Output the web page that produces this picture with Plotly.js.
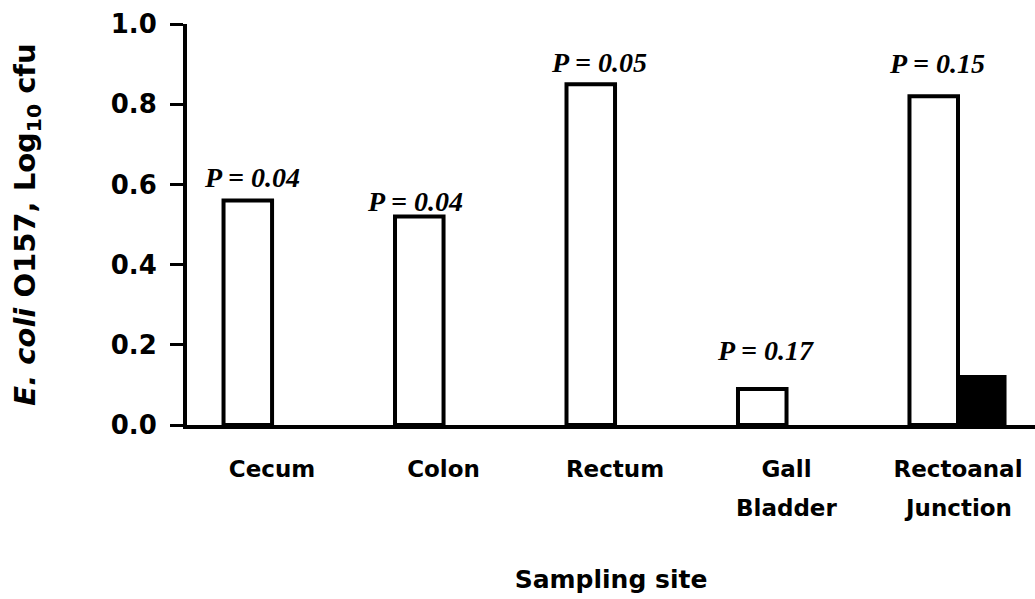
<!DOCTYPE html>
<html>
<head>
<meta charset="utf-8">
<script src="https://cdn.plot.ly/plotly-3.0.1.min.js"></script>
<style>html,body{margin:0;padding:0;background:#fff;}#chart{width:1035px;height:599px;}</style>
</head>
<body>
<div id="chart"></div>
<script>
// ---- data ----
var categories = ["Cecum", "Colon", "Rectum", "Gall Bladder", "Rectoanal Junction"];
var labelLine1 = ["Cecum", "Colon", "Rectum", "Gall", "Rectoanal"];
var labelLine2 = ["", "", "", "Bladder", "Junction"];
var whiteValues = [0.56, 0.52, 0.85, 0.09, 0.82];
var blackValues = [0, 0, 0, 0, 0.125];
var pLabels = ["P = 0.04", "P = 0.04", "P = 0.05", "P = 0.17", "P = 0.15"];
var yTicks = [0, 0.2, 0.4, 0.6, 0.8, 1.0];
var yTickText = ["0.0", "0.2", "0.4", "0.6", "0.8", "1.0"];

// ---- styling / placement (not data) ----
var pShiftX = [-20, -29, -16, -21, -21];
var pShiftY = [23, 15, 22, 38, 33];
var idx = categories.map(function (c, i) { return i; });

var traces = [
  {
    type: "bar", x: idx, y: whiteValues, name: "white",
    marker: { color: "#ffffff", line: { color: "#000000", width: 4 } },
    hoverinfo: "skip"
  },
  {
    type: "bar", x: idx, y: blackValues, name: "black",
    marker: { color: "#000000", line: { color: "#000000", width: 0 } },
    hoverinfo: "skip"
  }
];

var annotations = [];
pLabels.forEach(function (t, i) {
  annotations.push({
    xref: "x", yref: "y", x: idx[i], y: whiteValues[i],
    xshift: pShiftX[i], yshift: pShiftY[i],
    xanchor: "center", yanchor: "middle", showarrow: false,
    text: "<i>" + t + "</i>",
    font: { family: "Liberation Serif", size: 28, weight: "bold", color: "#000" }
  });
});
labelLine2.forEach(function (t, i) {
  if (!t) return;
  annotations.push({
    xref: "x", yref: "paper", x: idx[i], y: 0, yshift: -83,
    xanchor: "center", yanchor: "middle", showarrow: false,
    text: t,
    font: { family: "DejaVu Sans", size: 23, weight: "bold", color: "#000" }
  });
});

var layout = {
  width: 1035, height: 599,
  margin: { l: 187, r: 0, t: 24, b: 174, pad: 0 },
  paper_bgcolor: "#ffffff", plot_bgcolor: "#ffffff",
  showlegend: false,
  barmode: "group", bargap: 0.434, bargroupgap: 0,
  font: { family: "DejaVu Sans", size: 23, weight: "bold", color: "#000" },
  xaxis: {
    type: "linear", range: [-0.496, 4.449],
    tickmode: "array", tickvals: idx, ticktext: labelLine1,
    ticks: "", ticklabelstandoff: 20,
    tickfont: { family: "DejaVu Sans", size: 23, weight: "bold", color: "#000" },
    showline: true, linecolor: "#000", linewidth: 4,
    showgrid: false, zeroline: false, fixedrange: true,
    title: { text: "Sampling site", standoff: 91,
      font: { family: "DejaVu Sans", size: 25, weight: "bold", color: "#000" } }
  },
  yaxis: {
    range: [0, 1.0],
    tickmode: "array", tickvals: yTicks, ticktext: yTickText,
    ticks: "outside", ticklen: 13, tickwidth: 3, tickcolor: "#000",
    ticklabelstandoff: 8,
    tickfont: { family: "DejaVu Sans", size: 26, weight: "bold", color: "#000" },
    showline: true, linecolor: "#000", linewidth: 4,
    showgrid: false, zeroline: false, fixedrange: true,
    title: { text: "<i>E. coli</i> O157, Log<sub>10</sub> cfu", standoff: 68,
      font: { family: "DejaVu Sans", size: 29, weight: "bold", color: "#000" } }
  },
  annotations: annotations
};

Plotly.newPlot("chart", traces, layout, { staticPlot: true, displayModeBar: false });
</script>
</body>
</html>
